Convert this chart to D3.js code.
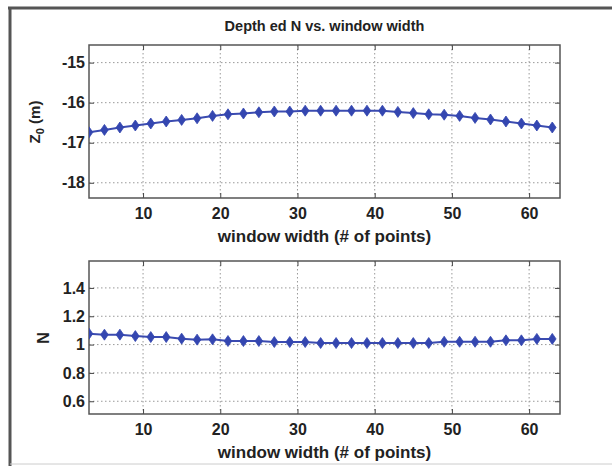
<!DOCTYPE html>
<html><head>
<meta charset="utf-8">
<script src="https://d3js.org/d3.v7.min.js"></script>
<style>
  body { margin: 0; background: #fff; }
  text { font-family: "Liberation Sans", Arial, sans-serif; font-weight: bold; fill: #222; }
</style>
</head>
<body>
<svg id="chart" width="612" height="466"></svg>
<script>
// window widths 3,5,...,63
const widths = [3,5,7,9,11,13,15,17,19,21,23,25,27,29,31,33,35,37,39,41,43,45,47,49,51,53,55,57,59,61,63];
const z0 = [-16.74,-16.68,-16.62,-16.57,-16.52,-16.47,-16.43,-16.39,-16.33,-16.29,-16.27,-16.24,-16.22,-16.22,-16.2,-16.2,
            -16.2,-16.2,-16.2,-16.2,-16.23,-16.26,-16.29,-16.3,-16.33,-16.38,-16.42,-16.47,-16.52,-16.57,-16.62];
const nVals = [1.077,1.07,1.07,1.06,1.053,1.053,1.042,1.035,1.037,1.025,1.025,1.025,1.018,1.018,1.018,1.011,
               1.011,1.011,1.011,1.011,1.011,1.011,1.011,1.02,1.02,1.02,1.02,1.03,1.03,1.04,1.04];
const xTicks = [10,20,30,40,50,60];
const zTicks = [-15,-16,-17,-18];
const nTicks = [0.6,0.8,1,1.2,1.4];

const svg = d3.select("#chart");

// outer frame like a pasted figure
svg.append("line").attr("x1",10).attr("x2",10).attr("y1",7).attr("y2",466)
   .attr("stroke","#555").attr("stroke-width",3);
svg.append("line").attr("x1",8).attr("x2",612).attr("y1",8).attr("y2",8)
   .attr("stroke","#555").attr("stroke-width",3);
svg.append("line").attr("x1",10).attr("x2",612).attr("y1",464).attr("y2",464)
   .attr("stroke","#ccc").attr("stroke-width",1);

const left = 89, right = 560;
const x = d3.scaleLinear().domain([3, 64]).range([left, right]);

function panel(top, bottom, yDomain, ticks, vals) {
  const y = d3.scaleLinear().domain(yDomain).range([bottom, top]);
  const g = svg.append("g");

  // dotted grid
  g.selectAll("line.gx").data(xTicks).join("line").attr("class","gx")
    .attr("x1", d => x(d)).attr("x2", d => x(d)).attr("y1", top).attr("y2", bottom)
    .attr("stroke","#999").attr("stroke-dasharray","1.5,2.5");
  g.selectAll("line.gy").data(ticks).join("line").attr("class","gy")
    .attr("x1", left).attr("x2", right).attr("y1", d => y(d)).attr("y2", d => y(d))
    .attr("stroke","#999").attr("stroke-dasharray","1.5,2.5");

  // axes with inward ticks, mirrored
  g.append("g").attr("transform",`translate(0,${bottom})`)
    .call(d3.axisBottom(x).tickValues(xTicks).tickSize(-5).tickPadding(10));
  g.append("g").attr("transform",`translate(0,${top})`)
    .call(d3.axisTop(x).tickValues(xTicks).tickSize(-5).tickFormat(""));
  g.append("g").attr("transform",`translate(${left},0)`)
    .call(d3.axisLeft(y).tickValues(ticks).tickSize(-5).tickPadding(4).tickFormat(d => String(d)));
  g.append("g").attr("transform",`translate(${right},0)`)
    .call(d3.axisRight(y).tickValues(ticks).tickSize(-5).tickFormat(""));
  g.selectAll(".domain").remove();
  g.selectAll(".tick line").attr("stroke","#444");
  g.selectAll(".tick text").style("font-size","16px").attr("fill","#222").attr("font-family",null);

  g.append("rect").attr("x",left).attr("y",top).attr("width",right-left).attr("height",bottom-top)
    .attr("fill","none").attr("stroke","#555").attr("stroke-width",1.5);

  const clipId = "clip" + top;
  svg.append("clipPath").attr("id", clipId).append("rect")
    .attr("x",left).attr("y",top).attr("width",right-left).attr("height",bottom-top);
  const data = widths.map((w,i) => [w, vals[i]]);
  const plot = g.append("g").attr("clip-path",`url(#${clipId})`);
  plot.append("path").datum(data)
    .attr("d", d3.line().x(d => x(d[0])).y(d => y(d[1])))
    .attr("fill","none").attr("stroke","#3b4bb0").attr("stroke-width",2);
  plot.selectAll("path.m").data(data).join("path").attr("class","m")
    .attr("d","M0,-5.5L3.8,0L0,5.5L-3.8,0Z")
    .attr("transform", d => `translate(${x(d[0])},${y(d[1])})`)
    .attr("fill","#3446b0").attr("stroke","#3446b0").attr("stroke-width",0.8);

  svg.append("text").attr("x",(left+right)/2).attr("y",bottom+44)
    .attr("text-anchor","middle").style("font-size","17px").text("window width (# of points)");
  return y;
}

panel(45, 198, [-18.38, -14.56], zTicks, z0);
panel(261, 414, [0.51, 1.59], nTicks, nVals);

svg.append("text").attr("x",(left+right)/2).attr("y",31)
  .attr("text-anchor","middle").style("font-size","14.5px").text("Depth ed N vs. window width");

const zl = svg.append("text").attr("transform","translate(40,122) rotate(-90)")
  .attr("text-anchor","middle").style("font-size","15px");
zl.append("tspan").text("Z");
zl.append("tspan").attr("dy",4).style("font-size","11px").text("0");
zl.append("tspan").attr("dy",-4).text(" (m)");

svg.append("text").attr("transform","translate(49,338) rotate(-90)")
  .attr("text-anchor","middle").style("font-size","16px").text("N");
</script>
</body></html>
